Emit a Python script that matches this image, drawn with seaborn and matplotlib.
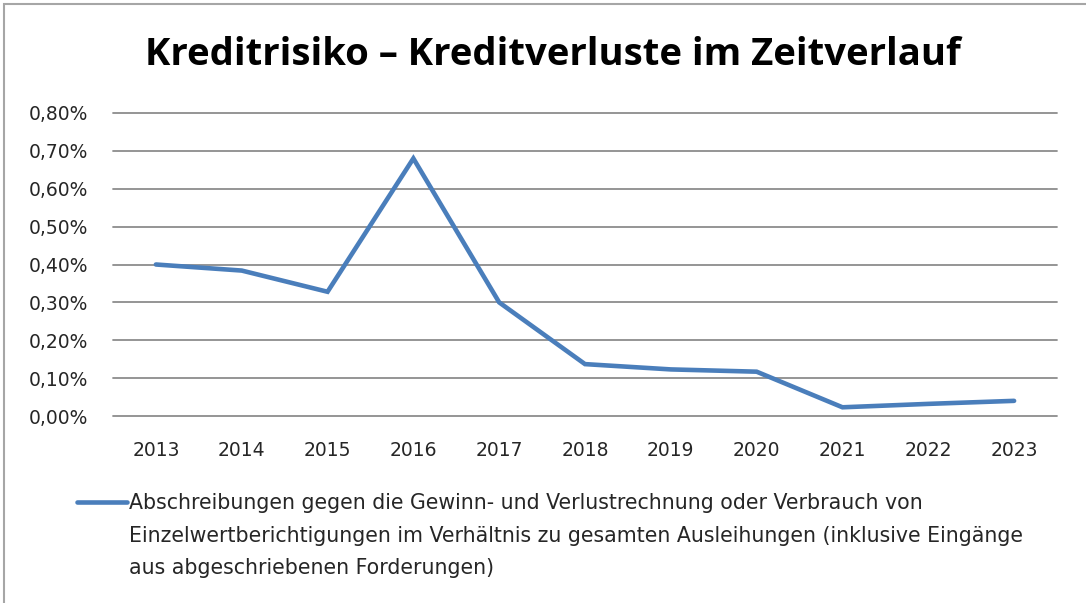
import matplotlib
matplotlib.use("Agg")
import matplotlib.pyplot as plt
import seaborn as sns
import pandas as pd
from matplotlib.ticker import FuncFormatter
from matplotlib.patches import Rectangle

years = ["2013", "2014", "2015", "2016", "2017", "2018", "2019", "2020", "2021", "2022", "2023"]
values = [0.0040, 0.00384, 0.00328, 0.0068, 0.0030, 0.00137, 0.00123, 0.00117, 0.00023, 0.00032, 0.00040]
y_ticks = [0.0, 0.001, 0.002, 0.003, 0.004, 0.005, 0.006, 0.007, 0.008]
title = "Kreditrisiko – Kreditverluste im Zeitverlauf"
legend_lines = [
    "Abschreibungen gegen die Gewinn- und Verlustrechnung oder Verbrauch von",
    "Einzelwertberichtigungen im Verhältnis zu gesamten Ausleihungen (inklusive Eingänge",
    "aus abgeschriebenen Forderungen)",
]

sns.set_theme(style="white")
plt.rcParams["font.family"] = ["DejaVu Sans"]

df = pd.DataFrame({"Jahr": years, "Wert": values})

fig = plt.figure(figsize=(10.86, 6.03), dpi=100)
ax = fig.add_axes([113 / 1086, 1 - 416 / 603, (1057 - 113) / 1086, (416 - 113) / 603])

color = "#4A7EBB"
sns.lineplot(data=df, x="Jahr", y="Wert", ax=ax, color=color, linewidth=3.3,
             sort=False, label=legend_lines[0], solid_joinstyle="miter")

ax.set_xlim(-0.5, len(years) - 0.5)
ax.set_ylim(0, 0.008)
ax.set_yticks(y_ticks)
ax.yaxis.set_major_formatter(FuncFormatter(lambda v, p: f"{v*100:.2f}%".replace(".", ",")))
ax.grid(axis="y", color="#8C8C8C", linewidth=1.3)
ax.grid(axis="x", visible=False)
for gl in ax.yaxis.get_gridlines():
    gl.set_clip_on(False)
ax.set_axisbelow(True)
for s in ax.spines.values():
    s.set_visible(False)
ax.set_xlabel("")
ax.set_ylabel("")
ax.tick_params(axis="both", length=0, labelsize=13.5, colors="#262626")
ax.tick_params(axis="y", pad=18)
ax.tick_params(axis="x", pad=18)

fig.text(553 / 1086, 1 - 55 / 603, title, ha="center", va="center",
         fontsize=27.5, fontweight="bold", color="black", family="Open Sans")

leg = ax.legend(loc="upper left", bbox_to_anchor=(77 / 1086, 1 - 493 / 603),
                bbox_transform=fig.transFigure, frameon=False, fontsize=14.8,
                handlelength=2.45, handletextpad=0.1, borderaxespad=0, borderpad=0)
for t in leg.get_texts():
    t.set_color("#262626")

fig.canvas.draw()
r = fig.canvas.get_renderer()
bb = leg.get_texts()[0].get_window_extent(r)
x0 = bb.x0 / fig.bbox.width
ybase = bb.y0 / fig.bbox.height
for i, line in enumerate(legend_lines[1:], start=1):
    fig.text(x0, ybase - i * 32.5 / 603, line, ha="left", va="bottom",
             fontsize=14.8, color="#262626")

fig.patches.append(Rectangle((4 / 1086, -0.1), 1.2, 1 - 4 / 603 + 0.1,
                             transform=fig.transFigure, fill=False,
                             edgecolor="#A6A6A6", linewidth=1.5))

fig.savefig("out.png", dpi=100)
